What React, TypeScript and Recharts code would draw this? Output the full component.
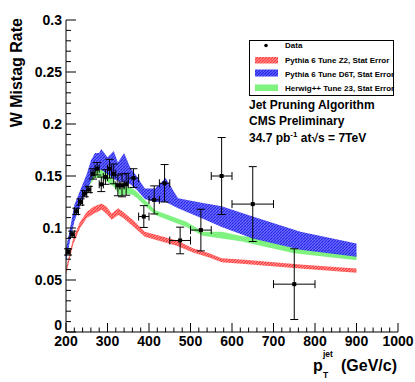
import React from 'react';
import {
  ComposedChart,
  Area,
  Scatter,
  ErrorBar,
  XAxis,
  YAxis,
} from 'recharts';

// data points (bin centre, mistag rate, half bin width, stat error)
const dataX = [205, 215, 225, 235, 245, 255, 265, 275, 285, 295, 305, 315, 325, 335, 345, 362.5, 387.5, 412.5, 437.5, 475, 525, 575, 650, 750];
const dataY = [0.077, 0.094, 0.116, 0.125, 0.133, 0.137, 0.152, 0.157, 0.142, 0.149, 0.157, 0.152, 0.141, 0.141, 0.142, 0.148, 0.111, 0.127, 0.143, 0.088, 0.098, 0.150, 0.123, 0.046];
const dataEx = [5, 5, 5, 5, 5, 5, 5, 5, 5, 5, 5, 5, 5, 5, 5, 12.5, 12.5, 12.5, 12.5, 25, 25, 25, 50, 50];
const dataEy = [0.003, 0.003, 0.003, 0.003, 0.003, 0.003, 0.005, 0.006, 0.007, 0.007, 0.009, 0.0095, 0.01, 0.011, 0.0105, 0.009, 0.0105, 0.0135, 0.018, 0.0128, 0.02, 0.037, 0.036, 0.034];

// Pythia 6 Tune Z2 band
const z2X = [200, 210, 218, 234, 250, 266, 286, 298, 310, 326, 338, 362, 390, 426, 467, 506, 547, 575, 631, 764, 900];
const z2Lo = [0.055, 0.072, 0.085, 0.1, 0.1095, 0.1135, 0.1175, 0.1135, 0.108, 0.1125, 0.1095, 0.1015, 0.0915, 0.0875, 0.083, 0.0765, 0.0715, 0.067, 0.0655, 0.061, 0.057];
const z2Hi = [0.061, 0.078, 0.091, 0.106, 0.1155, 0.1205, 0.1235, 0.1205, 0.114, 0.119, 0.1155, 0.1075, 0.0965, 0.0925, 0.088, 0.0805, 0.0755, 0.071, 0.0695, 0.0648, 0.061];

// Pythia 6 Tune D6T band
const d6tX = [200, 210, 220, 230, 240, 250, 260, 270, 280, 285, 300, 315, 325, 340, 355, 370, 390, 415, 440, 470, 530, 575, 650, 765, 900];
const d6tLo = [0.068, 0.088, 0.106, 0.117, 0.127, 0.135, 0.145, 0.155, 0.156, 0.156, 0.152, 0.147, 0.145, 0.144, 0.142, 0.137, 0.128, 0.125, 0.125, 0.119, 0.109, 0.101, 0.09, 0.079, 0.0724];
const d6tHi = [0.08, 0.1, 0.122, 0.132, 0.142, 0.152, 0.165, 0.172, 0.172, 0.176, 0.168, 0.174, 0.163, 0.172, 0.158, 0.15, 0.138, 0.138, 0.148, 0.1285, 0.124, 0.121, 0.111, 0.0965, 0.085];

// Herwig++ Tune 23 band
const hwX = [200, 210, 220, 230, 240, 250, 260, 270, 285, 300, 315, 330, 345, 360, 370, 415, 490, 530, 575, 625, 650, 750, 900];
const hwLo = [0.075, 0.092, 0.112, 0.12, 0.13, 0.137, 0.143, 0.148, 0.148, 0.144, 0.14, 0.131, 0.133, 0.132, 0.129, 0.1125, 0.101, 0.0926, 0.09, 0.087, 0.0846, 0.0757, 0.069];
const hwHi = [0.08, 0.098, 0.118, 0.127, 0.138, 0.148, 0.153, 0.157, 0.156, 0.152, 0.146, 0.138, 0.14, 0.138, 0.135, 0.117, 0.106, 0.0965, 0.0965, 0.092, 0.0917, 0.0805, 0.0757];

const xMajor = [200, 300, 400, 500, 600, 700, 800, 900, 1000];
const yMajor = [0, 0.05, 0.1, 0.15, 0.2, 0.25, 0.3];
const xTicks = Array.from({ length: 41 }, (_, i) => 200 + i * 20);
const yTicks = Array.from({ length: 31 }, (_, i) => i / 100);

const points = dataX.map((x, i) => ({ x, y: dataY[i], ex: dataEx[i], ey: dataEy[i] }));
const band = (xs: number[], lo: number[], hi: number[]) =>
  xs.map((x, i) => ({ x, range: [lo[i], hi[i]] }));

const FONT = '"Liberation Sans", Arial, Helvetica, sans-serif';

const isMajorX = (v: number) => xMajor.includes(v);
const isMajorY = (v: number) => yMajor.some((m) => Math.abs(m - v) < 1e-9);

const BottomTick = ({ x, y, payload }: any) => {
  const major = isMajorX(payload.value);
  return (
    <g>
      <line x1={x} y1={y} x2={x} y2={y - (major ? 9 : 4.5)} stroke="#000" />
      {major && (
        <text x={x} y={y + 13.5} textAnchor="middle" fontFamily={FONT} fontWeight="bold" fontSize={14} fill="#000">
          {payload.value}
        </text>
      )}
    </g>
  );
};

const TopTick = ({ x, y, payload }: any) => {
  const major = isMajorX(payload.value);
  return <line x1={x} y1={y} x2={x} y2={y + (major ? 9 : 4.5)} stroke="#000" />;
};

const LeftTick = ({ x, y, payload }: any) => {
  const major = isMajorY(payload.value);
  // the zero label sits higher so it clears the "200" below it
  const dy = payload.value === 0 ? -2.5 : 5;
  return (
    <g>
      <line x1={x} y1={y} x2={x + (major ? 10 : 5)} y2={y} stroke="#000" />
      {major && (
        <text x={x - 4} y={y + dy} textAnchor="end" fontFamily={FONT} fontWeight="bold" fontSize={14} fill="#000">
          {payload.value}
        </text>
      )}
    </g>
  );
};

const RightTick = ({ x, y, payload }: any) => {
  const major = isMajorY(payload.value);
  return <line x1={x} y1={y} x2={x - (major ? 10 : 5)} y2={y} stroke="#000" />;
};

const Marker = ({ cx, cy }: any) => <rect x={cx - 2} y={cy - 2} width={4} height={4} fill="#000" />;

const Patterns = () => (
  <defs>
    <pattern id="hatchRed" patternUnits="userSpaceOnUse" width="3" height="3">
      <rect width="3" height="3" fill="#ff8a8a" />
      <path d="M0,3 L3,0" stroke="#ff3b3b" strokeWidth="1.2" />
    </pattern>
    <pattern id="hatchBlue" patternUnits="userSpaceOnUse" width="3" height="3">
      <rect width="3" height="3" fill="#5c5cff" fillOpacity="0.9" />
      <path d="M0,3 L3,0" stroke="#2626e6" strokeWidth="1.2" />
    </pattern>
  </defs>
);

export default function App() {
  return (
    <div style={{ position: 'fixed', left: 0, top: 0, width: 415, height: 382, background: '#fff' }}>
      <ComposedChart width={415} height={382} margin={{ top: 20, right: 17, left: 0, bottom: 0 }}>
        <Patterns />
        <XAxis
          dataKey="x"
          type="number"
          domain={[200, 1000]}
          ticks={xTicks}
          interval={0}
          height={50}
          tickSize={0}
          tickMargin={0}
          tickLine={false}
          tick={<BottomTick />}
          axisLine={{ stroke: '#000' }}
          allowDataOverflow
        />
        <XAxis
          xAxisId="top"
          orientation="top"
          type="number"
          domain={[200, 1000]}
          ticks={xTicks}
          interval={0}
          height={0}
          tickSize={0}
          tickMargin={0}
          tickLine={false}
          tick={<TopTick />}
          axisLine={{ stroke: '#000' }}
        />
        <YAxis
          type="number"
          domain={[0, 0.3]}
          ticks={yTicks}
          interval={0}
          width={66}
          tickSize={0}
          tickMargin={0}
          tickLine={false}
          tick={<LeftTick />}
          axisLine={{ stroke: '#000' }}
          allowDataOverflow
        />
        <YAxis
          yAxisId="right"
          orientation="right"
          type="number"
          domain={[0, 0.3]}
          ticks={yTicks}
          interval={0}
          width={0}
          tickSize={0}
          tickMargin={0}
          tickLine={false}
          tick={<RightTick />}
          axisLine={{ stroke: '#000' }}
        />
        <Area
          data={band(hwX, hwLo, hwHi)}
          dataKey="range"
          type="linear"
          stroke="none"
          fill="#7ff27f"
          fillOpacity={1}
          isAnimationActive={false}
        />
        <Area
          data={band(d6tX, d6tLo, d6tHi)}
          dataKey="range"
          type="linear"
          stroke="none"
          fill="url(#hatchBlue)"
          fillOpacity={1}
          isAnimationActive={false}
        />
        <Area
          data={band(z2X, z2Lo, z2Hi)}
          dataKey="range"
          type="linear"
          stroke="none"
          fill="url(#hatchRed)"
          fillOpacity={1}
          isAnimationActive={false}
        />
        <Scatter data={points} dataKey="y" shape={<Marker />} isAnimationActive={false}>
          <ErrorBar dataKey="ey" direction="y" width={4} stroke="#000" strokeWidth={1} />
          <ErrorBar dataKey="ex" direction="x" width={4} stroke="#000" strokeWidth={1} />
        </Scatter>
      </ComposedChart>

      <svg width={415} height={382} style={{ position: 'absolute', left: 0, top: 0, pointerEvents: 'none' }}>
        <defs>
          <pattern id="legRed" patternUnits="userSpaceOnUse" width="3" height="3">
            <rect width="3" height="3" fill="#ff8a8a" />
            <path d="M0,3 L3,0" stroke="#ff3b3b" strokeWidth="1.2" />
          </pattern>
          <pattern id="legBlue" patternUnits="userSpaceOnUse" width="3" height="3">
            <rect width="3" height="3" fill="#5c5cff" />
            <path d="M0,3 L3,0" stroke="#2626e6" strokeWidth="1.2" />
          </pattern>
        </defs>
        <g fontFamily={FONT} fontWeight="bold" fill="#000">
          <text transform="translate(22,18) rotate(-90)" textAnchor="end" fontSize={16}>
            W Mistag Rate
          </text>
          <text x={313} y={371} fontSize={16}>p</text>
          <text x={323} y={356.5} fontSize={8.5}>jet</text>
          <text x={323} y={378} fontSize={8.5}>T</text>
          <text x={341} y={371} fontSize={16}>(GeV/c)</text>

          <text x={249} y={108.5} fontSize={12}>Jet Pruning Algorithm</text>
          <text x={249} y={125} fontSize={12}>CMS Preliminary</text>
          <text x={249} y={142} fontSize={12}>
            34.7 pb<tspan fontSize={8} dy={-5}>-1</tspan>
            <tspan dy={5}> at</tspan>√s = 7TeV
          </text>

          <rect x={249.5} y={40.5} width={144} height={55} fill="none" stroke="#000" strokeWidth={1} />
          <circle cx={266} cy={45.5} r={1.8} fill="#000" />
          <rect x={255} y={57} width={23} height={6.5} fill="url(#legRed)" />
          <rect x={255} y={69.5} width={23} height={7} fill="url(#legBlue)" />
          <rect x={255} y={84.5} width={23} height={6.5} fill="#7ff27f" />
          <text x={285} y={48} fontSize={8}>Data</text>
          <text x={285} y={63} fontSize={8}>Pythia 6 Tune Z2, Stat Error</text>
          <text x={285} y={76.5} fontSize={8}>Pythia 6 Tune D6T, Stat Error</text>
          <text x={285} y={91} fontSize={8}>Herwig++ Tune 23, Stat Error</text>
        </g>
      </svg>
    </div>
  );
}
